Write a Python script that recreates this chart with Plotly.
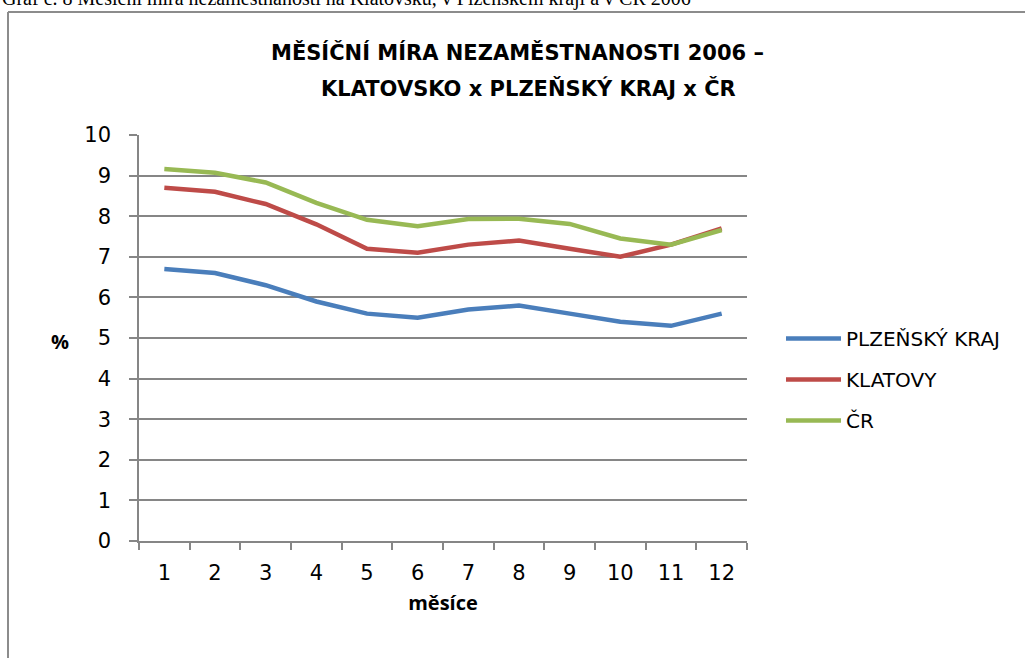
import plotly.graph_objects as go

months = [str(i) for i in range(1, 13)]
plzensky = [6.7, 6.6, 6.3, 5.9, 5.6, 5.5, 5.7, 5.8, 5.6, 5.4, 5.3, 5.6]
klatovy = [8.7, 8.6, 8.3, 7.8, 7.2, 7.1, 7.3, 7.4, 7.2, 7.0, 7.3, 7.7]
cr = [9.16, 9.07, 8.83, 8.33, 7.91, 7.75, 7.93, 7.94, 7.81, 7.45, 7.30, 7.66]
y_ticks = list(range(0, 11))

series_names = ["PLZEŇSKÝ KRAJ", "KLATOVY", "ČR"]
series_vals = [plzensky, klatovy, cr]
colors = ["#4A7EBB", "#BE4B48", "#98B954"]

W, H = 1025, 658
L, R, T, B = 139, 747, 135, 541

def px(x):
    return (x - L) / (R - L)

def py(y):
    return (B - y) / (B - T)

fig = go.Figure()
for i, (n, v, c) in enumerate(zip(series_names, series_vals, colors)):
    fig.add_trace(go.Scatter(x=months, y=v, name=n, mode="lines",
                             line=dict(color=c, width=4.5), legendgroup=str(i)))

grid = "#868686"
fig.update_layout(
    width=W, height=H,
    margin=dict(l=L, r=W - R, t=T, b=H - B, pad=0),
    paper_bgcolor="white", plot_bgcolor="white",
    font=dict(family="DejaVu Sans, sans-serif", size=21, color="black"),
    showlegend=True,
    legend=dict(x=px(781), y=py(319), xanchor="left", yanchor="top",
                font=dict(size=20, family="DejaVu Sans, sans-serif"),
                itemwidth=55, tracegroupgap=12, bgcolor="rgba(0,0,0,0)"),
    xaxis=dict(type="category", range=[-0.5, 11.5], showgrid=False,
               showline=True, linecolor=grid, linewidth=1.5,
               ticks="outside", tickson="boundaries", ticklen=7,
               tickcolor=grid, tickwidth=1.5, ticklabelstandoff=12,
               tickfont=dict(size=21),
               title=dict(text="<b>měsíce</b>", font=dict(size=20, family="Open Sans"), standoff=12)),
    yaxis=dict(range=[0, 10], tickvals=y_ticks, showgrid=True, gridcolor=grid,
               gridwidth=1.5, showline=True, linecolor=grid, linewidth=1.5,
               ticks="outside", ticklen=8, tickcolor=grid, tickwidth=1.5,
               zeroline=False, ticklabelstandoff=14, tickfont=dict(size=21)),
    annotations=[
        dict(text="Graf č. 8 Měsíční míra nezaměstnanosti na Klatovsku, v Plzeňském kraji a v ČR 2006",
             xref="paper", yref="paper", x=px(0), y=py(-2), xanchor="left", yanchor="middle",
             showarrow=False, font=dict(family="Liberation Serif", size=20, color="black")),
        dict(text="<b>MĚSÍČNÍ MÍRA NEZAMĚSTNANOSTI 2006 –</b>",
             xref="paper", yref="paper", x=px(517), y=py(53), xanchor="center", yanchor="middle",
             showarrow=False, font=dict(size=21, family="DejaVu Sans")),
        dict(text="<b>KLATOVSKO x PLZEŇSKÝ KRAJ x ČR</b>",
             xref="paper", yref="paper", x=px(528), y=py(88), xanchor="center", yanchor="middle",
             showarrow=False, font=dict(size=21, family="DejaVu Sans")),
        dict(text="<b>%</b>", xref="paper", yref="paper", x=px(60), y=py(341),
             xanchor="center", yanchor="middle", showarrow=False,
             font=dict(size=20, family="Open Sans")),
    ],
    shapes=[
        dict(type="line", xref="paper", yref="paper", x0=px(8), x1=px(1030), y0=py(12), y1=py(12),
             line=dict(color="#8c8c8c", width=2)),
        dict(type="line", xref="paper", yref="paper", x0=px(8), x1=px(8), y0=py(12), y1=py(700),
             line=dict(color="#8c8c8c", width=2)),
    ],
)

fig.write_html("out.html", config={"displayModeBar": False},
               post_script="document.body.style.margin='0';document.body.style.overflow='hidden';")
